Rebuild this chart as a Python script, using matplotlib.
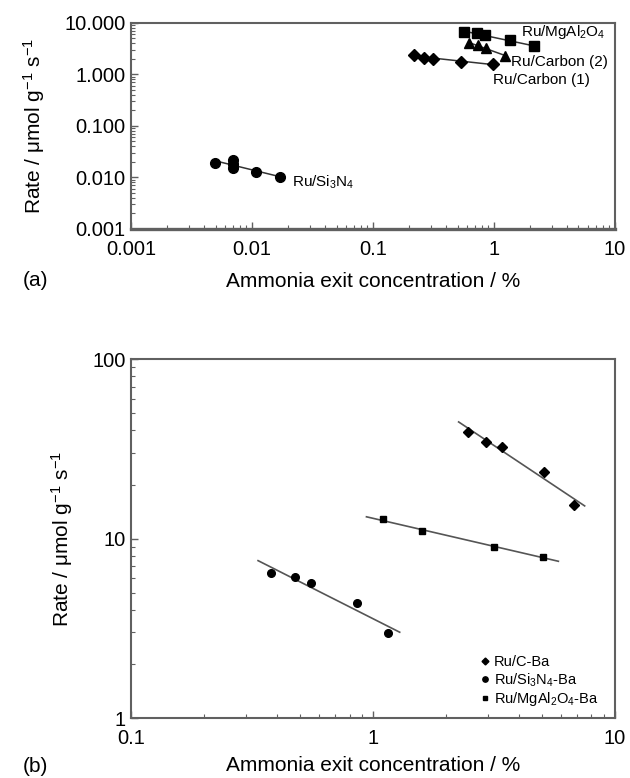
import numpy as np
import matplotlib
matplotlib.use('Agg')
import matplotlib.pyplot as plt
from matplotlib.ticker import LogLocator, FixedLocator, FuncFormatter, NullFormatter

plt.rcParams['font.family'] = ['Liberation Sans', 'DejaVu Sans']
plt.rcParams['mathtext.fontset'] = 'custom'
plt.rcParams['mathtext.rm'] = 'Liberation Sans'
plt.rcParams['mathtext.it'] = 'Liberation Sans'
plt.rcParams['mathtext.default'] = 'regular'

# --- panel (a) data ---
si3n4_x = [0.0049, 0.0069, 0.0069, 0.0069, 0.0107, 0.0170]
si3n4_y = [0.0189, 0.0220, 0.0184, 0.0156, 0.0130, 0.0101]

carbon1_x = [0.217, 0.266, 0.315, 0.53, 0.99]
carbon1_y = [2.37, 2.13, 2.04, 1.78, 1.58]

mgal_x = [0.571, 0.72, 0.84, 1.36, 2.13]
mgal_y = [6.57, 6.28, 5.92, 4.58, 3.50]

carbon2_x = [0.626, 0.736, 0.86, 1.23]
carbon2_y = [4.0, 3.72, 3.25, 2.30]

# --- panel (b) data ---
cba_x = [2.47, 2.94, 3.43, 5.09, 6.76]
cba_y = [39.4, 34.5, 32.4, 23.6, 15.4]
cba_fit_range = [2.26, 7.5]

siba_x = [0.378, 0.476, 0.552, 0.855, 1.15]
siba_y = [6.40, 6.08, 5.65, 4.38, 2.96]
siba_fit_range = [0.335, 1.29]

mgba_x = [1.10, 1.60, 3.15, 5.05]
mgba_y = [12.8, 10.97, 9.0, 7.89]
mgba_fit_range = [0.94, 5.84]

a_xticks = [0.001, 0.01, 0.1, 1, 10]
a_yticks = [0.001, 0.01, 0.1, 1, 10]
b_xticks = [0.1, 1, 10]
b_yticks = [1, 10, 100]

SPINE = '#606060'
LINE = '#333333'


def loglog_fit(x, y, xr):
    # straight line in log-log space through the points
    p = np.polyfit(np.log10(x), np.log10(y), 1)
    xs = np.array(xr)
    return xs, 10 ** np.polyval(p, np.log10(xs))


def style_axes(ax):
    ax.set_xscale('log')
    ax.set_yscale('log')
    for s in ax.spines.values():
        s.set_color(SPINE)
        s.set_linewidth(1.5)
    ax.tick_params(which='both', direction='in', colors=SPINE, labelcolor='black',
                   labelsize=14.5, top=False, right=False)
    ax.tick_params(which='major', length=5, width=1)
    ax.tick_params(which='minor', length=3, width=0.8)
    ax.tick_params(axis='x', which='both', pad=8)
    ax.tick_params(axis='y', which='both', pad=4)
    ax.xaxis.set_minor_locator(LogLocator(base=10, subs=np.arange(2, 10)))
    ax.yaxis.set_minor_locator(LogLocator(base=10, subs=np.arange(2, 10)))
    ax.xaxis.set_minor_formatter(NullFormatter())
    ax.yaxis.set_minor_formatter(NullFormatter())


fig = plt.figure(figsize=(6.3, 7.78), dpi=100)

# ---------------- (a) ----------------
ax1 = fig.add_axes([0.208, 0.7057, 0.768, 0.2648])
style_axes(ax1)
ax1.spines['bottom'].set_linewidth(2.4)

series_a = [
    (si3n4_x, si3n4_y, 'o', 7),
    (carbon1_x, carbon1_y, 'D', 6.5),
    (mgal_x, mgal_y, 's', 6.5),
    (carbon2_x, carbon2_y, '^', 6.5),
]
for x, y, m, ms in series_a:
    xs, ys = loglog_fit(x, y, [min(x), max(x)])
    ax1.plot(xs, ys, color=LINE, lw=1.1, zorder=2)
    ax1.plot(x, y, ls='none', marker=m, ms=ms, color='black', zorder=3)

ax1.set_xlim(0.001, 10)
ax1.set_ylim(0.001, 10)
ax1.xaxis.set_major_locator(FixedLocator(a_xticks))
ax1.yaxis.set_major_locator(FixedLocator(a_yticks))
ax1.xaxis.set_major_formatter(FuncFormatter(lambda v, p: '%g' % v))
ax1.yaxis.set_major_formatter(FuncFormatter(lambda v, p: '%.3f' % v))

ax1.text(1.67, 6.6, 'Ru/MgAl$_2$O$_4$', fontsize=11, va='center', ha='left')
ax1.text(1.38, 1.78, 'Ru/Carbon (2)', fontsize=11, va='center', ha='left')
ax1.text(0.99, 0.77, 'Ru/Carbon (1)', fontsize=11, va='center', ha='left')
ax1.text(0.0213, 0.0079, 'Ru/Si$_3$N$_4$', fontsize=11, va='center', ha='left')

ax1.set_xlabel('Ammonia exit concentration / %', fontsize=15)
ax1.set_ylabel('Rate / μmol g$^{-1}$ s$^{-1}$', fontsize=15)
ax1.xaxis.set_label_coords(0.5, -0.257)
ax1.xaxis.label.set_va('center')
ax1.yaxis.set_label_coords(-0.200, 0.5)
ax1.yaxis.label.set_va('center')

# ---------------- (b) ----------------
ax2 = fig.add_axes([0.208, 0.0771, 0.768, 0.4614])
style_axes(ax2)

series_b = [
    (cba_x, cba_y, cba_fit_range, 'D', 5, 'Ru/C-Ba'),
    (siba_x, siba_y, siba_fit_range, 'o', 5.5, 'Ru/Si$_3$N$_4$-Ba'),
    (mgba_x, mgba_y, mgba_fit_range, 's', 5, 'Ru/MgAl$_2$O$_4$-Ba'),
]
for x, y, xr, m, ms, lab in series_b:
    xs, ys = loglog_fit(x, y, xr)
    ax2.plot(xs, ys, color='#555555', lw=1.2, zorder=2)
    ax2.plot(x, y, ls='none', marker=m, ms=ms, color='black', zorder=3, label=lab)

ax2.set_xlim(0.1, 10)
ax2.set_ylim(1, 100)
ax2.xaxis.set_major_locator(FixedLocator(b_xticks))
ax2.yaxis.set_major_locator(FixedLocator(b_yticks))
ax2.xaxis.set_major_formatter(FuncFormatter(lambda v, p: '%g' % v))
ax2.yaxis.set_major_formatter(FuncFormatter(lambda v, p: '%g' % v))

leg = ax2.legend(loc='lower right', frameon=False, fontsize=10.5, markerscale=0.7,
                 handlelength=0.6, handletextpad=0.3, labelspacing=0.12,
                 borderaxespad=0.0, borderpad=0.3, bbox_to_anchor=(0.975, 0.015))

ax2.set_xlabel('Ammonia exit concentration / %', fontsize=15)
ax2.set_ylabel('Rate / μmol g$^{-1}$ s$^{-1}$', fontsize=15)
ax2.xaxis.set_label_coords(0.5, -0.131)
ax2.xaxis.label.set_va('center')
ax2.yaxis.set_label_coords(-0.143, 0.5)
ax2.yaxis.label.set_va('center')

fig.text(23 / 630, 1 - 280 / 778, '(a)', fontsize=15, va='center', ha='left')
fig.text(23 / 630, 1 - 767 / 778, '(b)', fontsize=15, va='center', ha='left')

fig.savefig('out.png', dpi=100)
